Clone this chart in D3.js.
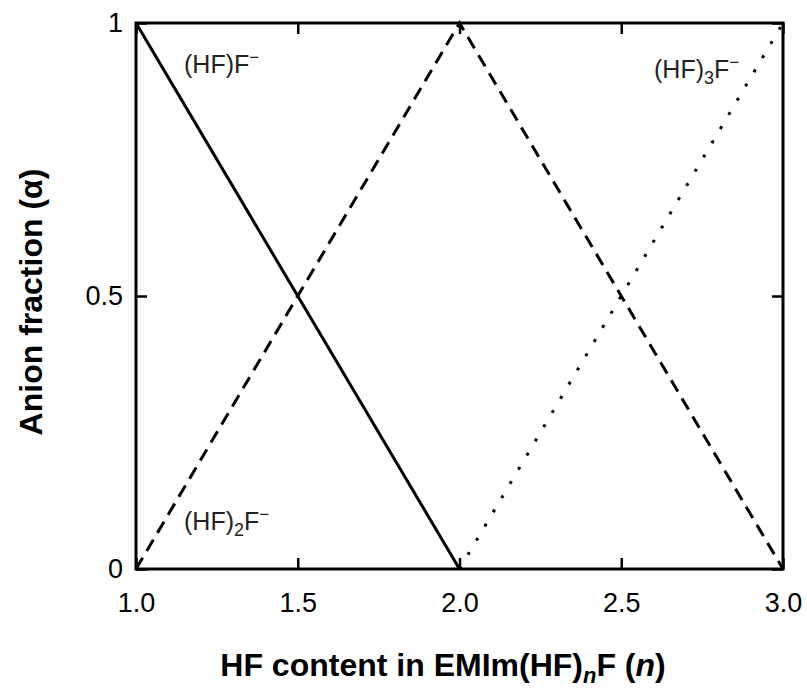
<!DOCTYPE html>
<html>
<head>
<meta charset="utf-8">
<script src="https://cdn.jsdelivr.net/npm/d3@7"></script>
<style>
  html, body { margin: 0; padding: 0; background: #fff; }
  svg { display: block; font-family: "Liberation Sans", Arial, sans-serif; }
</style>
</head>
<body>
<svg id="chart" width="807" height="692"></svg>
<script>
// HF content n and anion fractions for each species
const nValues = [1.0, 2.0, 3.0];
const fracHF1 = [1, 0, null];     // (HF)F−
const fracHF2 = [0, 1, 0];        // (HF)2F−
const fracHF3 = [null, 0, 1];     // (HF)3F−

const xTicks = [1.0, 1.5, 2.0, 2.5, 3.0];
const xTickLabels = ["1.0", "1.5", "2.0", "2.5", "3.0"];
const yTicks = [0, 0.5, 1];
const yTickLabels = ["0", "0.5", "1"];

const svg = d3.select("#chart");
const margin = { left: 136, right: 24, top: 23, bottom: 123 };
const W = 807, H = 692;
const x = d3.scaleLinear().domain([1, 3]).range([margin.left, W - margin.right]);
const y = d3.scaleLinear().domain([0, 1]).range([H - margin.bottom, margin.top]);

const line = d3.line()
  .defined(d => d[1] !== null)
  .x(d => x(d[0]))
  .y(d => y(d[1]));

const series = [
  { vals: fracHF1, dash: null },
  { vals: fracHF2, dash: "13,8" },
  { vals: fracHF3, dash: "3,13.5" }
];

series.forEach(s => {
  svg.append("path")
    .datum(nValues.map((n, i) => [n, s.vals[i]]))
    .attr("d", line)
    .attr("fill", "none")
    .attr("stroke", "#000")
    .attr("stroke-width", 3)
    .attr("stroke-dasharray", s.dash);
});

// Frame with inward ticks on all four sides
const tickLen = 11;
const bottomAxis = d3.axisBottom(x).tickValues(xTicks).tickSize(-tickLen)
  .tickFormat((d, i) => xTickLabels[i]).tickPadding(24);
const topAxis = d3.axisTop(x).tickValues(xTicks).tickSize(-tickLen).tickFormat("");
const leftAxis = d3.axisLeft(y).tickValues(yTicks).tickSize(-tickLen)
  .tickFormat((d, i) => yTickLabels[i]).tickPadding(13);
const rightAxis = d3.axisRight(y).tickValues(yTicks).tickSize(-tickLen).tickFormat("");

function styleAxis(g) {
  g.select(".domain").remove();
  g.selectAll(".tick line").attr("stroke", "#000").attr("stroke-width", 2.5);
  g.selectAll(".tick text").attr("fill", "#000").style("font-size", "27px")
    .style("font-family", "'Liberation Sans', Arial, sans-serif");
}

svg.append("g").attr("transform", `translate(0,${y(0)})`).call(bottomAxis).call(styleAxis);
svg.append("g").attr("transform", `translate(0,${y(1)})`).call(topAxis).call(styleAxis);
svg.append("g").attr("transform", `translate(${x(1)},0)`).call(leftAxis).call(styleAxis);
svg.append("g").attr("transform", `translate(${x(3)},0)`).call(rightAxis).call(styleAxis);

svg.append("rect")
  .attr("x", x(1)).attr("y", y(1))
  .attr("width", x(3) - x(1)).attr("height", y(0) - y(1))
  .attr("fill", "none").attr("stroke", "#000").attr("stroke-width", 3);

// Species labels
function speciesLabel(px, py, sub) {
  const t = svg.append("text").attr("x", px).attr("y", py)
    .attr("fill", "#222").style("font-size", "25px");
  t.append("tspan").text("(HF)");
  if (sub) t.append("tspan").attr("dy", 6).style("font-size", "18px").text(sub);
  t.append("tspan").attr("dy", sub ? -6 : 0).text("F");
  t.append("tspan").attr("dy", -10).style("font-size", "17px").text("−");
}
speciesLabel(184, 73, null);
speciesLabel(184, 530, "2");
speciesLabel(654, 78, "3");

// Axis titles
const xt = svg.append("text")
  .attr("x", 443).attr("y", 676)
  .attr("text-anchor", "middle")
  .style("font-size", "32px").style("font-weight", "bold");
xt.append("tspan").text("HF content in EMIm(HF)");
xt.append("tspan").attr("dy", 7).style("font-size", "22px").style("font-style", "italic").text("n");
xt.append("tspan").attr("dy", -7).text("F (");
xt.append("tspan").style("font-style", "italic").text("n");
xt.append("tspan").text(")");

svg.append("text")
  .attr("transform", `translate(42,302) rotate(-90)`)
  .attr("text-anchor", "middle")
  .style("font-size", "32px").style("font-weight", "bold")
  .text("Anion fraction (α)");
</script>
</body>
</html>
